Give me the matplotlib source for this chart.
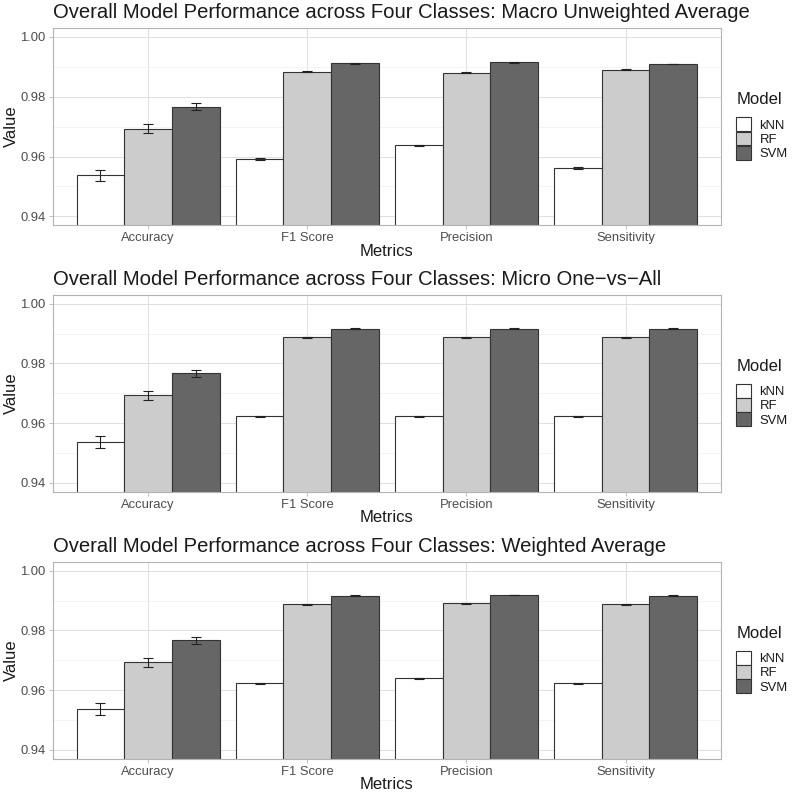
import numpy as np
import matplotlib
matplotlib.use("Agg")
import matplotlib.pyplot as plt

plt.rcParams['font.family'] = ['Liberation Sans', 'DejaVu Sans']

metrics = ["Accuracy", "F1 Score", "Precision", "Sensitivity"]
models = ["kNN", "RF", "SVM"]
fills = ["#FFFFFF", "#CCCCCC", "#666666"]

titles = [
    "Overall Model Performance across Four Classes: Macro Unweighted Average",
    "Overall Model Performance across Four Classes: Micro One\u2212vs\u2212All",
    "Overall Model Performance across Four Classes: Weighted Average",
]

# values per panel: rows = model (kNN, RF, SVM), cols = metrics
macro_vals = [[0.9537, 0.9591, 0.9637, 0.9561],
              [0.9693, 0.9884, 0.9880, 0.9890],
              [0.9767, 0.9912, 0.9915, 0.9909]]
micro_vals = [[0.9537, 0.9623, 0.9623, 0.9623],
              [0.9693, 0.9887, 0.9887, 0.9887],
              [0.9767, 0.9916, 0.9916, 0.9916]]
weighted_vals = [[0.9537, 0.9623, 0.9639, 0.9623],
                 [0.9693, 0.9887, 0.9890, 0.9887],
                 [0.9767, 0.9916, 0.9918, 0.9916]]

macro_err = [[0.0019, 0.0003, 0.0003, 0.0003],
             [0.0015, 0.0002, 0.0002, 0.0002],
             [0.0012, 0.0001, 0.0001, 0.0001]]
micro_err = [[0.0019, 0.0002, 0.0002, 0.0002],
             [0.0015, 0.0002, 0.0002, 0.0002],
             [0.0012, 0.0001, 0.0001, 0.0001]]
weighted_err = [[0.0019, 0.0002, 0.0002, 0.0002],
                [0.0015, 0.0002, 0.0002, 0.0002],
                [0.0012, 0.0001, 0.0001, 0.0001]]

panel_vals = [macro_vals, micro_vals, weighted_vals]
panel_err = [macro_err, micro_err, weighted_err]

fig = plt.figure(figsize=(7.99, 7.99), dpi=100)

W, H = 799.0, 799.0
left, right = 52.7, 721.0
tops = [28.0, 294.7, 561.7]
bots = [225.3, 491.7, 758.7]

grid_c = "#E0E0E0"
border_c = "#B3B3B3"
x = np.arange(len(metrics))
bw = 0.3

for p in range(3):
    ax = fig.add_axes([left / W, 1 - bots[p] / H, (right - left) / W, (bots[p] - tops[p]) / H])
    vals = np.array(panel_vals[p])
    errs = np.array(panel_err[p])
    ax.set_axisbelow(True)
    handles = []
    for i, m in enumerate(models):
        xs = x + (i - 1) * bw
        h = ax.bar(xs, vals[i] - 0.9, bottom=0.9, width=bw, color=fills[i],
                   edgecolor="#333333", linewidth=0.8, label=m)
        handles.append(h)
        ax.errorbar(xs, vals[i], yerr=errs[i], fmt="none", ecolor="#222222",
                     elinewidth=0.8, capsize=3.6, capthick=0.8)
    ax.set_xlim(-0.6, 3.6)
    ax.set_ylim(0.937, 1.003)
    ax.set_yticks([0.94, 0.96, 0.98, 1.00])
    ax.set_yticklabels(["0.94", "0.96", "0.98", "1.00"])
    ax.set_yticks([0.95, 0.97, 0.99], minor=True)
    ax.set_xticks(x)
    ax.set_xticklabels(metrics)
    ax.grid(True, which="major", color=grid_c, linewidth=0.7)
    ax.grid(True, which="minor", axis="y", color="#F0F0F0", linewidth=0.5)
    ax.tick_params(which="major", length=3, width=0.6, color=border_c,
                   labelsize=9.4, labelcolor="#4D4D4D", pad=2)
    ax.tick_params(which="minor", length=0)
    for s in ax.spines.values():
        s.set_color(border_c)
        s.set_linewidth(0.8)
    ax.set_xlabel("Metrics", fontsize=12, color="#1A1A1A", labelpad=-0.5)
    ax.set_ylabel("Value", fontsize=12, color="#1A1A1A", labelpad=1)
    ax.set_title(titles[p], loc="left", fontsize=14.6, color="#1A1A1A", pad=7)

    cy = (tops[p] + bots[p]) / 2
    fig.text(737 / W, 1 - (cy - 27) / H, "Model", fontsize=12, color="#1A1A1A",
             ha="left", va="center")
    leg = fig.legend(handles=handles, labels=models, loc="center left",
                     bbox_to_anchor=(736 / W, 1 - (cy + 12) / H), frameon=False,
                     fontsize=9.4, handlelength=1.15, handleheight=1.25,
                     labelspacing=0, handletextpad=0.65, borderpad=0,
                     borderaxespad=0)
    for t in leg.get_texts():
        t.set_color("#1A1A1A")

fig.savefig("out.png", dpi=100)
